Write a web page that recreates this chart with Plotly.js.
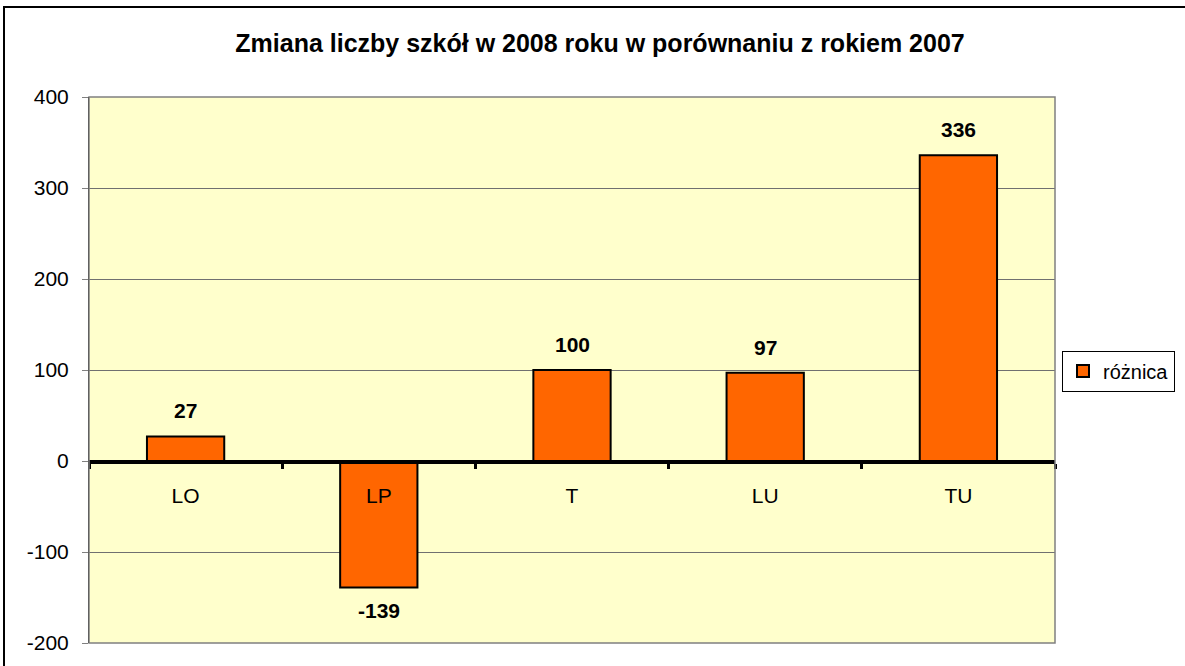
<!DOCTYPE html>
<html>
<head>
<meta charset="utf-8">
<script src="https://cdn.plot.ly/plotly-3.0.1.min.js"></script>
<style>html,body{margin:0;padding:0;background:#fff;}#chart{width:1185px;height:666px;}</style>
</head>
<body>
<div id="chart"></div>
<script>
const categories = ["LO", "LP", "T", "LU", "TU"];
const values = [27, -139, 100, 97, 336];
const seriesName = "różnica";
const titleText = "Zmiana liczby szkół w 2008 roku w porównaniu z rokiem 2007";
const yTicks = [-200, -100, 0, 100, 200, 300, 400];

const FONT = "Liberation Sans, Arial, sans-serif";
const W = 966, H = 546;

const trace = {
  type: "bar",
  x: categories,
  y: values,
  name: seriesName,
  width: 0.4,
  marker: {color: "#FF6600", line: {color: "#000000", width: 2}},
  showlegend: true
};

const labels = categories.map((c, i) => ({
  x: c, y: values[i], xref: "x", yref: "y",
  text: "<b>" + values[i] + "</b>",
  showarrow: false,
  yanchor: values[i] >= 0 ? "bottom" : "top",
  yshift: values[i] >= 0 ? 12 : -10,
  font: {family: FONT, size: 21, color: "#000"}
}));

const layout = {
  width: 1185, height: 666,
  margin: {l: 89, r: 130, t: 97, b: 23, pad: 0, autoexpand: false},
  paper_bgcolor: "#ffffff",
  plot_bgcolor: "#FFFFCC",
  font: {family: FONT, size: 21, color: "#000"},
  title: {
    text: "<b>" + titleText + "</b>",
    font: {family: FONT, size: 25, color: "#000"},
    xref: "container", x: 600/1185, xanchor: "center",
    yref: "container", y: 1 - 43/666, yanchor: "middle"
  },
  xaxis: {
    type: "category",
    range: [-0.5, 4.5],
    anchor: "free",
    position: 200/600,
    showline: true, linecolor: "#000", linewidth: 3.5,
    ticks: "outside", tickson: "boundaries", ticklen: 5, tickwidth: 3, tickcolor: "#000",
    ticklabelstandoff: 14,
    showgrid: false, zeroline: false,
    tickfont: {family: FONT, size: 21, color: "#000"}
  },
  yaxis: {
    range: [-200, 400],
    tickvals: yTicks,
    ticktext: yTicks.map(String),
    showgrid: true, gridcolor: "#707070", gridwidth: 1,
    zeroline: false,
    showline: true, linecolor: "#000", linewidth: 1,
    ticks: "outside", ticklen: 6, tickcolor: "#808080", tickwidth: 1,
    ticklabelstandoff: 9,
    tickfont: {family: FONT, size: 21, color: "#000"}
  },
  legend: {
    x: (1062-89)/W, xanchor: "left",
    y: (643-371)/H, yanchor: "middle",
    bgcolor: "#fff", bordercolor: "#000", borderwidth: 1,
    font: {family: FONT, size: 20, color: "#000"},
    itemwidth: 30, tracegroupgap: 0
  },
  annotations: labels,
  shapes: [
    {type: "rect", xref: "x domain", yref: "y domain", x0: 0, x1: 1, y0: 0, y1: 1,
     line: {color: "#808080", width: 1.5}, fillcolor: "rgba(0,0,0,0)", layer: "above"},
    {type: "rect", xref: "paper", yref: "paper",
     x0: (4-89)/W, x1: (1192-89)/W, y0: (643-675)/H, y1: (643-7)/H,
     line: {color: "#000", width: 2}, fillcolor: "rgba(0,0,0,0)", layer: "above"}
  ]
};

Plotly.newPlot("chart", [trace], layout, {displayModeBar: false, staticPlot: true});
</script>
</body>
</html>
